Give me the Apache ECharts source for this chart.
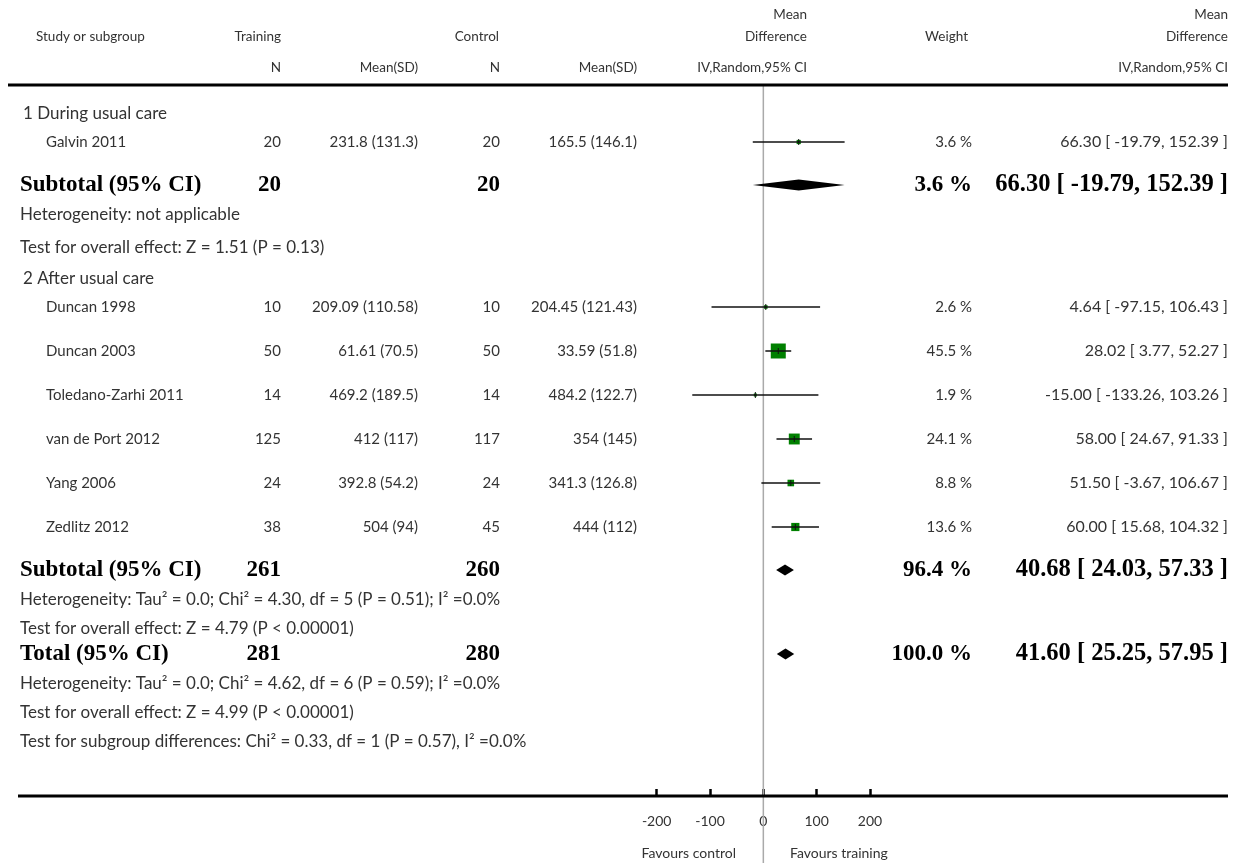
<!DOCTYPE html>
<html>
<head>
<meta charset="utf-8">
<script src="https://cdn.jsdelivr.net/npm/echarts@6/dist/echarts.min.js"></script>
<style>html,body{margin:0;padding:0;background:#fff}#c{width:1241px;height:863px}</style>
</head>
<body>
<div id="c"></div>
<script>
// ---------------- DATA ----------------
const groupTitles = ['1 During usual care', '2 After usual care'];
const studyNames = ['Galvin 2011', 'Duncan 1998', 'Duncan 2003', 'Toledano-Zarhi 2011', 'van de Port 2012', 'Yang 2006', 'Zedlitz 2012'];
const studyGroup = [0, 1, 1, 1, 1, 1, 1];
const trainN = [20, 10, 50, 14, 125, 24, 38];
const trainMean = [231.8, 209.09, 61.61, 469.2, 412, 392.8, 504];
const trainSD = [131.3, 110.58, 70.5, 189.5, 117, 54.2, 94];
const ctrlN = [20, 10, 50, 14, 117, 24, 45];
const ctrlMean = [165.5, 204.45, 33.59, 484.2, 354, 341.3, 444];
const ctrlSD = [146.1, 121.43, 51.8, 122.7, 145, 126.8, 112];
const studyMD = [66.30, 4.64, 28.02, -15.00, 58.00, 51.50, 60.00];
const studyLo = [-19.79, -97.15, 3.77, -133.26, 24.67, -3.67, 15.68];
const studyHi = [152.39, 106.43, 52.27, 103.26, 91.33, 106.67, 104.32];
const studyWeight = [3.6, 2.6, 45.5, 1.9, 24.1, 8.8, 13.6];

const poolNames = ['Subtotal (95% CI)', 'Subtotal (95% CI)', 'Total (95% CI)'];
const poolTrainN = [20, 261, 281];
const poolCtrlN = [20, 260, 280];
const poolMD = [66.30, 40.68, 41.60];
const poolLo = [-19.79, 24.03, 25.25];
const poolHi = [152.39, 57.33, 57.95];
const poolWeight = [3.6, 96.4, 100.0];

const poolNotes = [
  ['Heterogeneity: not applicable', 'Test for overall effect: Z = 1.51 (P = 0.13)'],
  ['Heterogeneity: Tau² = 0.0; Chi² = 4.30, df = 5 (P = 0.51); I² =0.0%', 'Test for overall effect: Z = 4.79 (P < 0.00001)'],
  ['Heterogeneity: Tau² = 0.0; Chi² = 4.62, df = 6 (P = 0.59); I² =0.0%', 'Test for overall effect: Z = 4.99 (P < 0.00001)', 'Test for subgroup differences: Chi² = 0.33, df = 1 (P = 0.57), I² =0.0%']
];
const xTicks = [-200, -100, 0, 100, 200];
const favourLabels = ['Favours control', 'Favours training'];

// ---------------- LAYOUT ----------------
const W = 1241, H = 863;
const RULE_TOP = 85, AXIS_Y = 796;
const REG = "Lato, 'Open Sans', sans-serif";
const BOLD = "'Liberation Serif', 'DejaVu Serif', serif";
const TXT = '#333';

const rows = [];
rows.push({k: 'group', g: 0});
studyNames.forEach((n, i) => { if (studyGroup[i] === 0) rows.push({k: 'study', i}); });
rows.push({k: 'pool', p: 0});
poolNotes[0].forEach(t => rows.push({k: 'note', t, p: 0}));
rows.push({k: 'group', g: 1});
studyNames.forEach((n, i) => { if (studyGroup[i] === 1) rows.push({k: 'study', i}); });
rows.push({k: 'pool', p: 1});
poolNotes[1].forEach(t => rows.push({k: 'note', t, p: 1}));
rows.push({k: 'pool', p: 2});
poolNotes[2].forEach(t => rows.push({k: 'note', t, p: 2}));

function gap(prev, cur) {
  if (!prev) return 29;
  if (cur.k === 'study') return prev.k === 'study' ? 44 : 28;
  if (cur.k === 'pool') return cur.p === 2 ? 25 : 43;
  if (cur.k === 'group') return 31;
  if (cur.k === 'note') {
    if (prev.k !== 'note') return 30;
    return cur.p === 0 ? 33 : 29;
  }
  return 29;
}
let acc = 0;
rows.forEach((r, idx) => { acc += gap(rows[idx - 1], r); r.y = acc; });
const yMax = AXIS_Y - RULE_TOP;
const yBottom = H - RULE_TOP;

const fmt2 = v => v.toFixed(2);
const ciStr = (m, l, h) => `${fmt2(m)} [ ${fmt2(l)}, ${fmt2(h)} ]`;

const g = [];
function txt(text, x, y, align, bold, size) {
  g.push({type: 'text', silent: true, style: {
    text, x, y, textAlign: align, textVerticalAlign: 'middle',
    font: bold ? `bold ${size}px ${BOLD}` : `${size}px ${REG}`,
    fill: bold ? '#000' : TXT }});
}
const HS = 13.5, DS = 15, NS = 17, MS = 16, BS = 23, BMS = 24.5;
// header
txt('Study or subgroup', 36, 37, 'left', false, HS);
txt('Training', 281, 37, 'right', false, HS);
txt('Control', 499, 37, 'right', false, HS);
txt('Mean', 807, 15, 'right', false, HS);
txt('Difference', 807, 37, 'right', false, HS);
txt('Weight', 968, 37, 'right', false, HS);
txt('Mean', 1228, 15, 'right', false, HS);
txt('Difference', 1228, 37, 'right', false, HS);
txt('N', 281, 68, 'right', false, HS);
txt('Mean(SD)', 418, 68, 'right', false, HS);
txt('N', 500, 68, 'right', false, HS);
txt('Mean(SD)', 637, 68, 'right', false, HS);
txt('IV,Random,95% CI', 807, 68, 'right', false, HS);
txt('IV,Random,95% CI', 1228, 68, 'right', false, HS);
// rules
g.push({type: 'line', silent: true, z: 10, shape: {x1: 8, y1: RULE_TOP, x2: 1228, y2: RULE_TOP}, style: {stroke: '#000', lineWidth: 3}});
g.push({type: 'line', silent: true, z: 10, shape: {x1: 18, y1: AXIS_Y, x2: 1228, y2: AXIS_Y}, style: {stroke: '#000', lineWidth: 3}});

rows.forEach(r => {
  const y = RULE_TOP + r.y;
  if (r.k === 'group') txt(groupTitles[r.g], 23, y, 'left', false, NS);
  else if (r.k === 'note') txt(r.t, 20, y, 'left', false, NS);
  else if (r.k === 'study') {
    const i = r.i;
    txt(studyNames[i], 46, y, 'left', false, DS);
    txt(String(trainN[i]), 281, y, 'right', false, DS);
    txt(`${trainMean[i]} (${trainSD[i]})`, 418, y, 'right', false, DS);
    txt(String(ctrlN[i]), 500, y, 'right', false, DS);
    txt(`${ctrlMean[i]} (${ctrlSD[i]})`, 637, y, 'right', false, DS);
    txt(`${studyWeight[i].toFixed(1)} %`, 972, y, 'right', false, DS);
    txt(ciStr(studyMD[i], studyLo[i], studyHi[i]), 1228, y, 'right', false, MS);
  } else if (r.k === 'pool') {
    const p = r.p;
    txt(poolNames[p], 20, y, 'left', true, BS);
    txt(String(poolTrainN[p]), 281, y, 'right', true, BS);
    txt(String(poolCtrlN[p]), 500, y, 'right', true, BS);
    txt(`${poolWeight[p].toFixed(1)} %`, 972, y, 'right', true, BS);
    txt(ciStr(poolMD[p], poolLo[p], poolHi[p]), 1228, y, 'right', true, BMS);
  }
});
txt(favourLabels[0], 736, 853, 'right', false, 14);
txt(favourLabels[1], 790, 853, 'left', false, 14);

const studyData = rows.filter(r => r.k === 'study').map(r =>
  [studyMD[r.i], studyLo[r.i], studyHi[r.i], r.y, studyWeight[r.i]]);
const poolData = rows.filter(r => r.k === 'pool').map(r =>
  [poolMD[r.p], poolLo[r.p], poolHi[r.p], r.y]);

const chart = echarts.init(document.getElementById('c'), null, {renderer: 'canvas', width: W, height: H});
chart.setOption({
  animation: false,
  backgroundColor: '#fff',
  grid: {left: 656.67, width: 213.33, top: RULE_TOP, bottom: H - AXIS_Y, containLabel: false},
  xAxis: {
    type: 'value', min: -200, max: 200, interval: 100,
    position: 'bottom',
    axisLine: {show: false, onZero: false},
    axisTick: {show: true, inside: true, length: 7, lineStyle: {color: '#000', width: 2.5}},
    axisLabel: {color: TXT, fontFamily: REG, fontSize: 14, margin: 18},
    splitLine: {show: false}
  },
  yAxis: {type: 'value', inverse: true, min: 0, max: yMax, show: false},
  series: [
    {
      type: 'custom', z: 1, clip: false, silent: true,
      encode: {x: 0, y: [1, 2]},
      data: [[0, 0, yBottom]],
      renderItem: function (params, api) {
        const a = api.coord([api.value(0), api.value(1)]);
        const b = api.coord([api.value(0), api.value(2)]);
        return {type: 'line', shape: {x1: a[0], y1: a[1], x2: b[0], y2: b[1]}, style: {stroke: '#aaa', lineWidth: 1.5}};
      }
    },
    {
      type: 'custom', z: 3, clip: false, silent: true,
      encode: {x: [0, 1, 2], y: 3},
      data: studyData,
      renderItem: function (params, api) {
        const yv = api.value(3);
        const c = api.coord([api.value(0), yv]);
        const l = api.coord([api.value(1), yv]);
        const r = api.coord([api.value(2), yv]);
        const s = 15 * Math.sqrt(api.value(4) / 45.5);
        return {type: 'group', children: [
          {type: 'rect', shape: {x: c[0] - s / 2, y: c[1] - s / 2, width: s, height: s}, style: {fill: '#008000'}},
          {type: 'line', shape: {x1: l[0], y1: l[1], x2: r[0], y2: r[1]}, style: {stroke: '#111', lineWidth: 1.5}},
          {type: 'line', shape: {x1: c[0], y1: c[1] - 3, x2: c[0], y2: c[1] + 3}, style: {stroke: '#111', lineWidth: 1}}
        ]};
      }
    },
    {
      type: 'custom', z: 3, clip: false, silent: true,
      encode: {x: [0, 1, 2], y: 3},
      data: poolData,
      renderItem: function (params, api) {
        const yv = api.value(3);
        const c = api.coord([api.value(0), yv]);
        const l = api.coord([api.value(1), yv]);
        const r = api.coord([api.value(2), yv]);
        const h = 5.5;
        return {type: 'polygon', shape: {points: [[l[0], c[1]], [c[0], c[1] - h], [r[0], c[1]], [c[0], c[1] + h]]}, style: {fill: '#000'}};
      }
    }
  ],
  graphic: g
});
</script>
</body>
</html>
